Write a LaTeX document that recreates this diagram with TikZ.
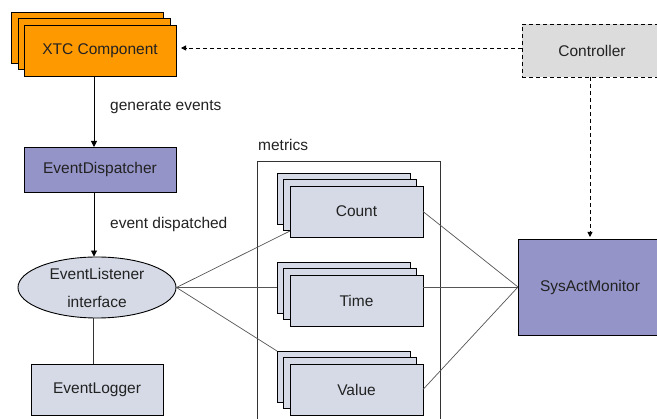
\documentclass[tikz,border=0pt]{standalone}
\usepackage{fontspec}
\setmainfont{Liberation Sans}
\usetikzlibrary{shapes.geometric,arrows.meta}

\definecolor{xtcOrange}{HTML}{FF9900}
\definecolor{dispPurple}{HTML}{9494C9}
\definecolor{paleBlue}{HTML}{D5DAE6}
\definecolor{ctrlGray}{HTML}{DCDCDC}
\definecolor{linkGray}{HTML}{555555}
\definecolor{textGray}{HTML}{222222}

\tikzset{
  box/.style={draw=black, line width=0.9pt, inner sep=0pt, outer sep=0pt,
    minimum width=#1, text=textGray},
  box/.default=152pt,
  xtcbox/.style={box, fill=xtcOrange, minimum height=51pt},
  metricbox/.style={box=133pt, fill=paleBlue, minimum height=51pt},
  flow/.style={draw=black, line width=0.9pt, -{Triangle[length=6pt,width=6pt]}},
  ctrlflow/.style={draw=black, line width=0.9pt, dash pattern=on 4pt off 3pt,
    -{Triangle[length=5pt,width=5pt]}},
  link/.style={draw=linkGray, line width=0.7pt},
  caption/.style={anchor=west, inner sep=0pt, text=textGray}
}

\begin{document}
\begin{tikzpicture}[x=1pt, y=-1pt, font=\fontsize{15.5}{18}\selectfont]
  \useasboundingbox (0,0) rectangle (657,419);

  % XTC component stack
  \node[xtcbox] (xtcA) at (87.5,37.5) {};
  \node[xtcbox] (xtcB) at (94,44) {};
  \node[xtcbox] (xtc)  at (100,50.5) {XTC Component};

  % dispatcher, listener, logger
  \node[box, fill=dispPurple, minimum height=45pt] (disp) at (100,169.5) {EventDispatcher};
  \node[ellipse, draw=black, line width=0.9pt, fill=paleBlue, inner sep=0pt,
        minimum width=158pt, minimum height=61pt, align=center, text=textGray,
        font=\fontsize{15.5}{28}\selectfont] (listener) at (97,287.5)
        {EventListener\\interface};
  \node[box=132pt, fill=paleBlue, minimum height=51pt] (logger) at (97,389.5) {EventLogger};

  % metrics container
  \node[draw=black!80, line width=0.8pt, inner sep=0pt, outer sep=0pt,
        minimum width=183pt, minimum height=270pt, anchor=north west] (metrics) at (257,161) {};
  \node[caption] (metricsLabel) at (258,145) {metrics};

  % metric stacks
  \node[metricbox] (countA) at (343.5,198.5) {};
  \node[metricbox] (countB) at (350,205) {};
  \node[metricbox] (count)  at (356.5,211.5) {Count};

  \node[metricbox] (timeA) at (343.5,287.5) {};
  \node[metricbox] (timeB) at (350,294) {};
  \node[metricbox] (time)  at (356.5,300.5) {Time};

  \node[metricbox] (valueA) at (343.5,376.5) {};
  \node[metricbox] (valueB) at (350,383) {};
  \node[metricbox] (value)  at (356.5,389.5) {Value};

  % controller and monitor
  \node[box=140pt, fill=ctrlGray, minimum height=53pt, dash pattern=on 4pt off 3pt]
        (ctrl) at (592,50.5) {Controller};
  \node[box=144pt, fill=dispPurple, minimum height=96pt] (mon) at (590,287) {SysActMonitor};

  % event flow
  \draw[flow] ([xshift=-6pt]xtc.south) -- ([xshift=-6pt]disp.north);
  \node[caption] (genText) at (110,107) {generate events};
  \draw[flow] ([xshift=-6pt]disp.south) -- ([xshift=-3pt]listener.north);
  \node[caption] (dispText) at (110,224) {event dispatched};
  \draw[link, draw=black!80] ([xshift=-4pt]listener.south) -- ([xshift=-4pt]logger.north);

  % listener to metrics
  \draw[link] (listener.east) -- ([yshift=6pt]count.south west);
  \draw[link] (listener.east) -- (timeA.west);
  \draw[link] (listener.east) -- (valueA.north west);

  % metrics to monitor
  \draw[link] (count.east) -- (mon.west);
  \draw[link] (time.east |- mon.west) -- (mon.west);
  \draw[link] (value.east) -- (mon.west);

  % control flow
  \draw[ctrlflow] ([yshift=2.5pt]ctrl.west) -- ([yshift=2.5pt,xshift=5pt]xtc.east);
  \draw[ctrlflow] (ctrl.south -| mon.north) -- ([yshift=2pt]mon.north);
\end{tikzpicture}
\end{document}
